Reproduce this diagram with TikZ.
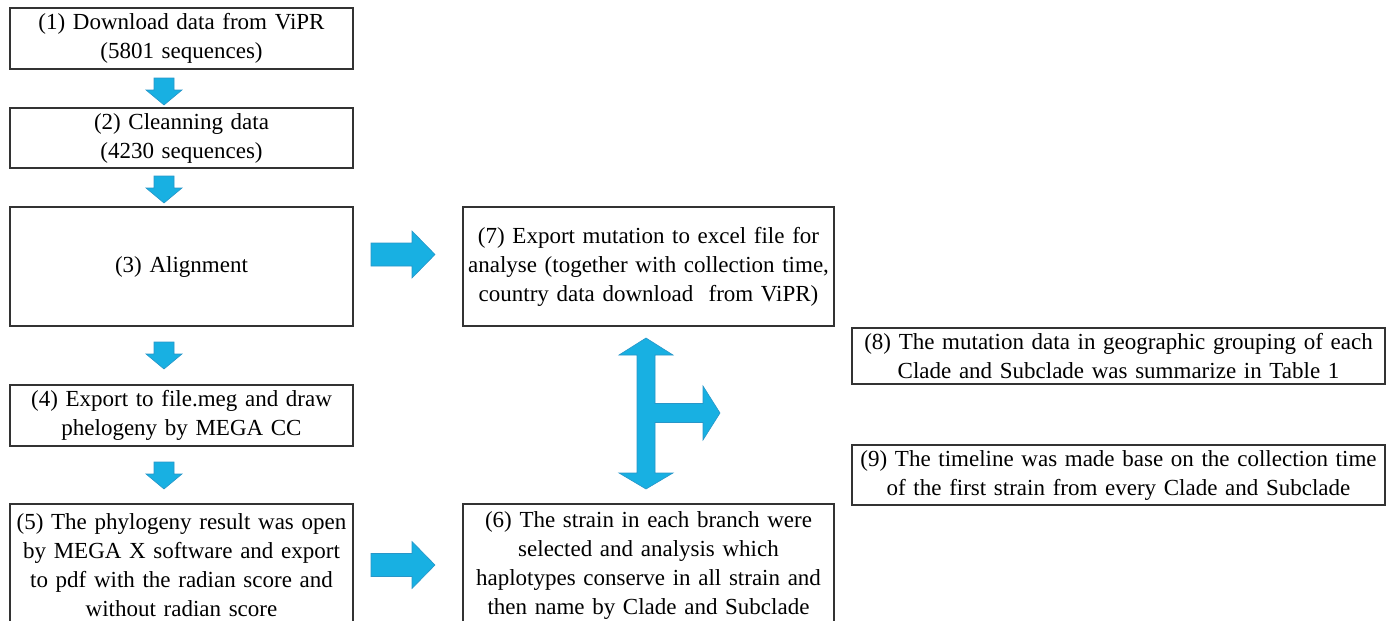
\documentclass[tikz,border=0pt]{standalone}
\usepackage{fontspec}
\setmainfont{Liberation Serif}
\usepackage{xcolor}
\usepackage{tikz}
\usetikzlibrary{positioning}

\definecolor{arrowblue}{RGB}{24,176,226}
\definecolor{arrowedge}{RGB}{40,150,200}

\tikzset{
  stepbox/.style={draw=black!80, line width=1.2pt, align=center, inner xsep=0pt, inner ysep=2pt,
    font=\fontsize{23}{29}\selectfont},
  blockarrow/.style={fill=arrowblue, draw=arrowedge, line width=0.6pt, line join=miter}
}

\begin{document}
\begin{tikzpicture}[x=1pt,y=-1pt]
\clip (0,0) rectangle (1395,621);

% Left column
\node[stepbox, minimum width=343, minimum height=61, text width=343pt] (download) at (181.5,38.5)
  {(1) Download data from ViPR\\(5801 sequences)};
\node[stepbox, minimum width=343, minimum height=60, text width=343pt] (cleaning) at (181.5,138)
  {(2) Cleanning data\\(4230 sequences)};
\node[stepbox, minimum width=343, minimum height=119, text width=343pt] (alignment) at (181.5,266.5)
  {(3) Alignment};
\node[stepbox, minimum width=343, minimum height=61, text width=343pt] (megcc) at (181.5,415.5)
  {(4) Export to file.meg and draw\\phelogeny by MEGA CC};
\node[stepbox, minimum width=343, minimum height=122, text width=343pt] (megax) at (181.5,565)
  {(5) The phylogeny result was open\\by MEGA X software and export\\to pdf with the radian score and\\without radian score};

% Middle column
\node[stepbox, minimum width=371, minimum height=119, text width=371pt] (excel) at (648.5,266.5)
  {(7) Export mutation to excel file for\\\makebox[0pt]{analyse (together with collection time,}\\country data download \ from ViPR)};
\node[stepbox, minimum width=371, minimum height=122, text width=371pt] (strain) at (648.5,565)
  {(6) The strain in each branch were\\selected and analysis which\\haplotypes conserve in all strain and\\then name by Clade and Subclade};

% Right column
\node[stepbox, minimum width=533, minimum height=56, text width=533pt] (geo) at (1118.5,356)
  {(8) The mutation data in geographic grouping of each\\Clade and Subclade was summarize in Table 1};
\node[stepbox, minimum width=533, minimum height=60, text width=533pt] (timeline) at (1118.5,475)
  {(9) The timeline was made base on the collection time\\of the first strain from every Clade and Subclade};

% Down arrows
\foreach \t in {78,176,342,462}
  \draw[blockarrow] (154,\t) -- (174,\t) -- (174,\t+12) -- (182,\t+12) -- (164,\t+27)
    -- (146,\t+12) -- (154,\t+12) -- cycle;

% Right arrows
\foreach \c in {254.5,565}
  \draw[blockarrow] (371,\c-11.5) -- (412,\c-11.5) -- (412,\c-23.5) -- (435,\c)
    -- (412,\c+23.5) -- (412,\c+11.5) -- (371,\c+11.5) -- cycle;

% T-shaped arrow
\draw[blockarrow] (646,338) -- (673,355) -- (655,355) -- (655,403.5) -- (703,403.5) -- (703,386)
  -- (720,413) -- (703,440) -- (703,422.5) -- (655,422.5) -- (655,473) -- (673,473)
  -- (646,489) -- (619,473) -- (637,473) -- (637,355) -- (619,355) -- cycle;
\end{tikzpicture}
\end{document}
